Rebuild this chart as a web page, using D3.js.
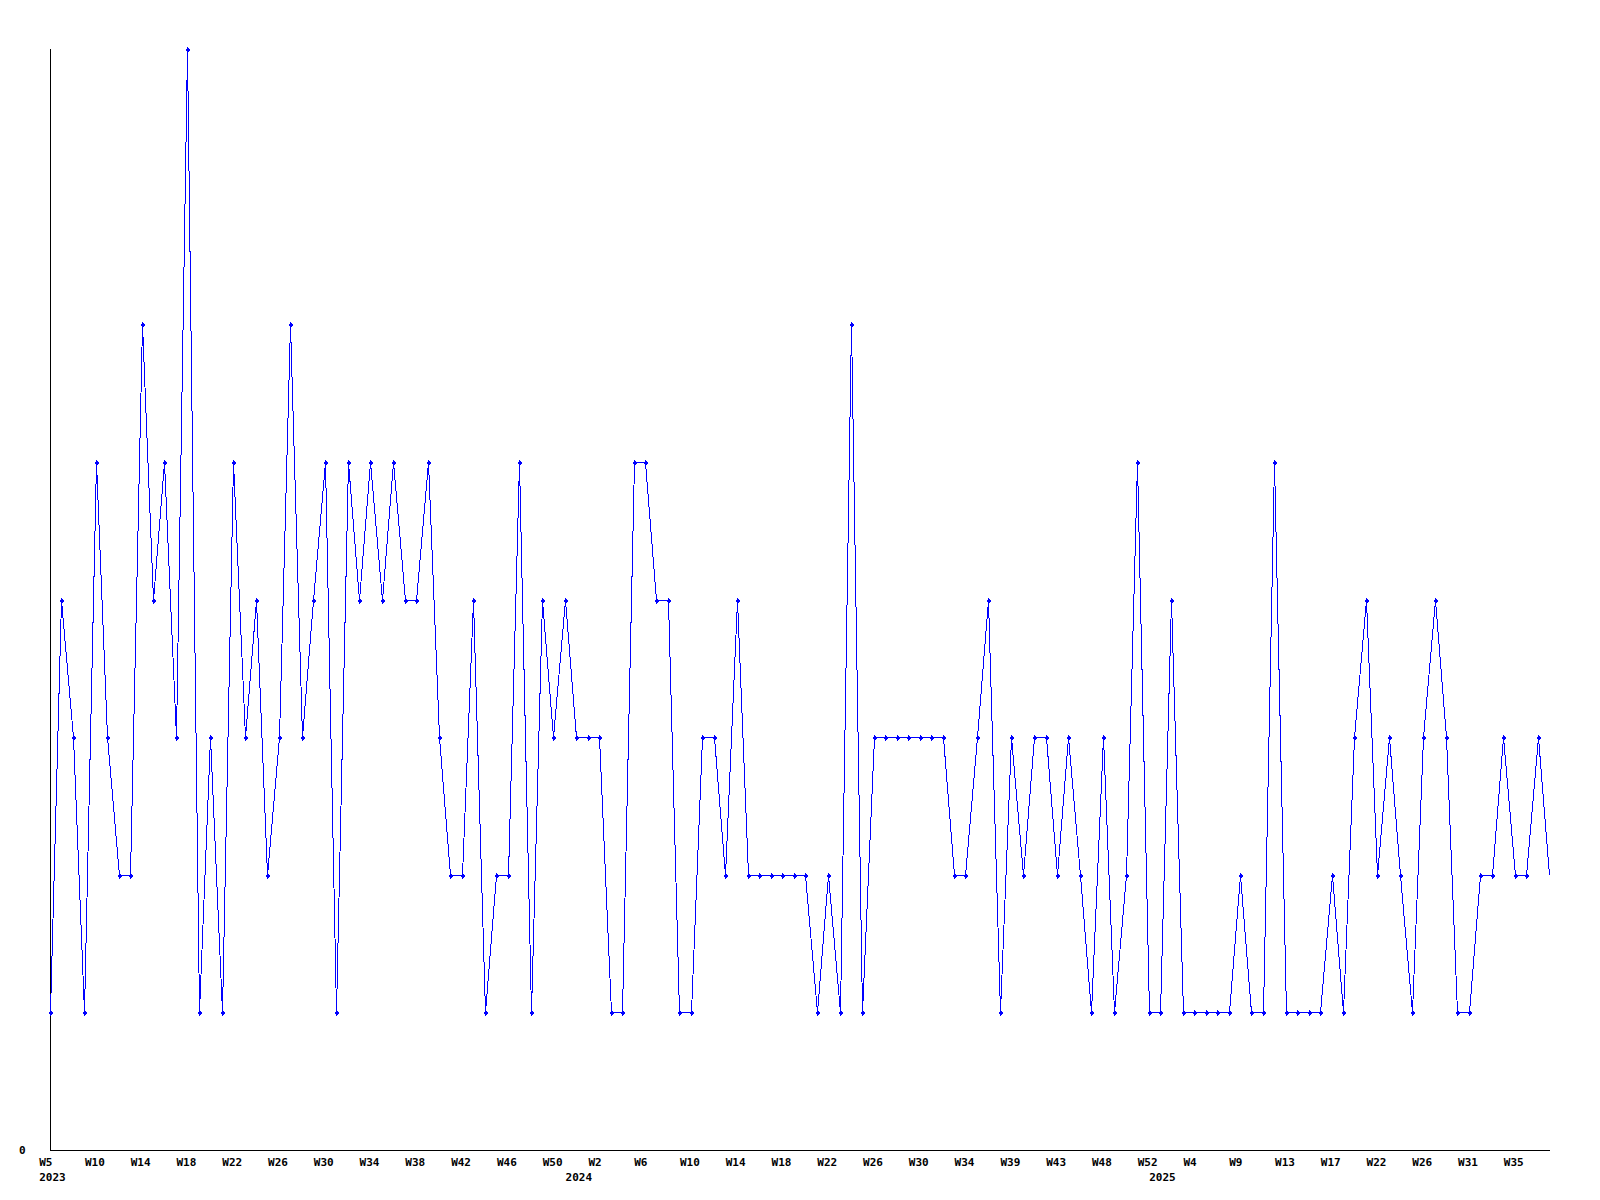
<!DOCTYPE html>
<html lang="en">
<head>
    <meta charset="UTF-8">
    <title>Weekly counts</title>
    <script src="https://d3js.org/d3.v7.min.js"></script>
    <style>
        body { margin: 0; background: #fff; }
        svg { display: block; }
        .lbl { font-family: "DejaVu Sans Mono", monospace; font-weight: bold; font-size: 11px; fill: #000; }
    </style>
</head>
<body>
    <div id="container"></div>
    <script>
        // one value per week, starting 2023 W5
        const values = [
            1, 4, 3, 1, 5, 3, 2, 2, 6, 4, 5, 3, 8, 1, 3, 1, 5, 3, 4, 2,
            3, 6, 3, 4, 5, 1, 5, 4, 5, 4, 5, 4, 4, 5, 3, 2, 2, 4, 1, 2,
            2, 5, 1, 4, 3, 4, 3, 3, 3, 1, 1, 5, 5, 4, 4, 1, 1, 3, 3, 2,
            4, 2, 2, 2, 2, 2, 2, 1, 2, 1, 6, 1, 3, 3, 3, 3, 3, 3, 3, 2,
            2, 3, 4, 1, 3, 2, 3, 3, 2, 3, 2, 1, 3, 1, 2, 5, 1, 1, 4, 1,
            1, 1, 1, 1, 2, 1, 1, 5, 1, 1, 1, 1, 2, 1, 3, 4, 2, 3, 2, 1,
            3, 4, 3, 1, 1, 2, 2, 3, 2, 2, 3, 2
        ];

        // a week label on every 4th point
        const weekLabels = [
            "W5", "W10", "W14", "W18", "W22", "W26", "W30", "W34", "W38", "W42", "W46", "W50",
            "W2", "W6", "W10", "W14", "W18", "W22", "W26", "W30", "W34", "W39", "W43", "W48",
            "W52", "W4", "W9", "W13", "W17", "W22", "W26", "W31", "W35"
        ];
        const tickStep = 4;

        const years = ["2023", "2024", "2025"];
        const yearIndex = [0, 46, 97];

        const width = 1600, height = 1200;
        const m = { left: 50, right: 1549, top: 49, bottom: 1150 };

        const svg = d3.select("#container").append("svg")
            .attr("width", width)
            .attr("height", height);

        const x = d3.scaleLinear().domain([0, values.length - 1]).range([m.left, m.right]);
        const y = d3.scaleLinear().domain([0, 8]).range([m.bottom, m.top]);

        // axes
        svg.append("line")
            .attr("x1", m.left + 0.5).attr("x2", m.left + 0.5)
            .attr("y1", m.top).attr("y2", m.bottom + 0.5)
            .attr("stroke", "#000").attr("shape-rendering", "crispEdges");
        svg.append("line")
            .attr("x1", m.left).attr("x2", m.right + 1)
            .attr("y1", m.bottom + 0.5).attr("y2", m.bottom + 0.5)
            .attr("stroke", "#000").attr("shape-rendering", "crispEdges");

        svg.append("text").attr("class", "lbl")
            .attr("x", 19).attr("y", m.bottom + 4)
            .text("0");

        // week labels, left aligned a bit before the tick
        svg.selectAll("text.wk")
            .data(weekLabels)
            .enter().append("text")
            .attr("class", "lbl wk")
            .attr("x", (d, i) => x(i * tickStep) - 10.8)
            .attr("y", m.bottom + 16)
            .text(d => d);

        svg.selectAll("text.yr")
            .data(years)
            .enter().append("text")
            .attr("class", "lbl yr")
            .attr("x", (d, i) => x(yearIndex[i]) - 10.8)
            .attr("y", m.bottom + 31)
            .text(d => d);

        // series
        const line = d3.line()
            .x((d, i) => Math.round(x(i)) + 0.5)
            .y(d => Math.round(y(d)) + 0.5);

        svg.append("path")
            .datum(values)
            .attr("d", line)
            .attr("fill", "none")
            .attr("stroke", "#0000ff")
            .attr("stroke-width", 1)
            .attr("shape-rendering", "crispEdges");

        svg.append("clipPath").attr("id", "plot")
            .append("rect")
            .attr("x", 0).attr("y", 0)
            .attr("width", m.right - 3).attr("height", height);

        // small plus markers
        const plus = "M-2,-0.5h1v-1h0.5v-1h1v1h0.5v1h1v2h-1v1h-0.5v1h-1v-1h-0.5v-1h-1z";
        svg.append("g")
            .attr("clip-path", "url(#plot)")
            .selectAll("path")
            .data(values)
            .enter().append("path")
            .attr("d", plus)
            .attr("transform", (d, i) => `translate(${Math.round(x(i)) + 0.5},${Math.round(y(d)) + 0.5})`)
            .attr("fill", "#0000ff")
            .attr("shape-rendering", "crispEdges");
    </script>
</body>
</html>
